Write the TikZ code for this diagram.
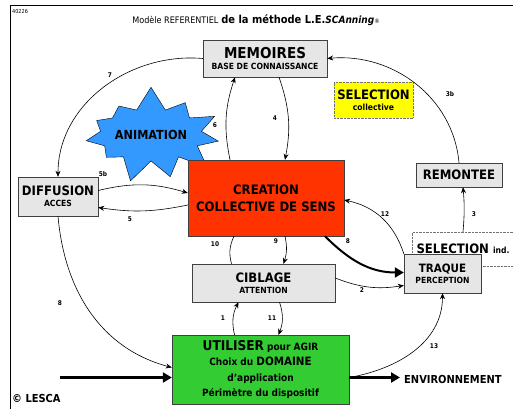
\documentclass[tikz,border=0pt]{standalone}
\usepackage{fontspec}
\setmainfont{DejaVu Sans Condensed}
\usepackage{xcolor}
\usepackage{tikz}
\usetikzlibrary{shapes.symbols,arrows.meta}
\definecolor{boxgray}{HTML}{E6E6E6}
\definecolor{selyellow}{HTML}{FFFF00}
\definecolor{creared}{HTML}{FF3300}
\definecolor{utlgreen}{HTML}{33CC33}
\definecolor{animblue}{HTML}{3399FF}
\newcommand\headtxt{\fontsize{13}{14}\selectfont}
\newcommand\subtxt{\fontsize{8.5}{10}\selectfont}

\begin{document}
\begin{tikzpicture}[
  x=1pt, y=1pt,
  box/.style={rectangle, draw=black!75, fill=boxgray, inner sep=0pt,
    align=center, font=\bfseries},
  dotbox/.style={box, draw=black!55, densely dotted},
  num/.style={font=\bfseries\fontsize{6.5}{7}\selectfont, inner sep=1pt},
  arr/.style={-{Stealth[length=6pt,width=5pt]}, semithick},
  fat/.style={-{Triangle[length=9pt,width=10pt]}, line width=2.6pt}
]
\useasboundingbox (0,0) rectangle (513,409);
\draw[line width=1pt] (10,0) -- (10,403) -- (513,403);
\node[anchor=west, font=\fontsize{5.5}{6}\selectfont, inner sep=0pt] (ref) at (12,397) {40226};
\node[inner sep=0pt] (title) at (256,389) {{\fontsize{9}{11}\selectfont Modèle REFERENTIEL}
  {\bfseries\fontsize{11}{12}\selectfont de la méthode L.E.\itshape\fontsize{10}{12}\selectfont SCAnning}{\fontsize{6}{7}\selectfont ®}};

% boxes
\node[box, minimum width=124pt, minimum height=37pt] (mem) at (265,350.5)
  {\fontsize{15}{16}\selectfont MEMOIRES\\[-1pt]\subtxt BASE DE CONNAISSANCE};
\node[dotbox, fill=selyellow, minimum width=79pt, minimum height=36pt] (selcol) at (373.5,309)
  {\headtxt SELECTION\\[-1pt]\subtxt collective};
\node[starburst, starburst points=11, starburst point height=24pt, random starburst=7,
  fill=animblue, draw=black, minimum width=118pt, minimum height=100pt, inner sep=0pt,
  font=\bfseries\fontsize{12.5}{13}\selectfont] (anim) at (151,274) {ANIMATION};
\node[box, fill=creared, minimum width=156pt, minimum height=76pt,
  font=\bfseries\fontsize{13}{17}\selectfont] (crea) at (266,211)
  {CREATION\\ COLLECTIVE DE SENS};
\node[box, minimum width=80pt, minimum height=39pt] (diff) at (58,212.5)
  {\headtxt DIFFUSION\\[-1pt]\subtxt ACCES};
\node[box, minimum width=86pt, minimum height=24pt] (rem) at (459,234) {\headtxt REMONTEE};
\node[dotbox, fill=white, minimum width=101pt, minimum height=34pt] (selind) at (463,160)
  {\headtxt SELECTION {\subtxt ind.}};
\node[box, minimum width=143pt, minimum height=38pt] (cib) at (263.5,126)
  {\headtxt CIBLAGE\\[-1pt]\subtxt ATTENTION};
\node[box, minimum width=77pt, minimum height=39pt] (traq) at (442.5,135.5)
  {\fontsize{11.5}{13}\selectfont TRAQUE\\[-1pt]\subtxt PERCEPTION};
\node[box, fill=utlgreen, minimum width=177pt, minimum height=69pt,
  font=\bfseries\fontsize{10}{15.5}\selectfont] (utl) at (260.5,39.5)
  {{\fontsize{13.5}{15.5}\selectfont UTILISER} pour AGIR\\
   Choix du {\fontsize{11.5}{15.5}\selectfont DOMAINE}\\ d'application\\ Périmètre du dispositif};
\node[anchor=west, font=\bfseries\fontsize{11}{12}\selectfont, inner sep=0pt] (env) at (404,30) {ENVIRONNEMENT};
\node[anchor=west, font=\bfseries\fontsize{11}{12}\selectfont, inner sep=0pt] (lesca) at (12,11) {© LESCA};
\coordinate (inlet) at (60,31.5);
\coordinate (outlet) at (400,31.5);

% numbers
\node[num] (n7) at (110,334) {7};
\node[num] (n3b) at (450,315) {3b};
\node[num] (n6) at (215,284) {6};
\node[num] (n4) at (275,291) {4};
\node[num] (n5b) at (103,235) {5b};
\node[num] (n5) at (130,190) {5};
\node[num] (n3) at (474,195) {3};
\node[num] (n12) at (385,195) {12};
\node[num] (n8) at (348,168) {8};
\node[num] (n10) at (215,165) {10};
\node[num] (n9) at (276,168) {9};
\node[num] (n2) at (362,119) {2};
\node[num] (n8b) at (60,106) {8};
\node[num] (n1) at (223,91) {1};
\node[num] (n11) at (272,91) {11};
\node[num] (n13) at (434,63) {13};

% links
\draw[arr] (mem.west) to[out=175, in=90] (diff.north);
\draw[arr] (rem.north) to[out=95, in=5] (mem.east);
\draw[arr] ([xshift=-36pt]crea.north) to[bend left=15] ([xshift=-30pt]mem.south);
\draw[arr] ([xshift=14pt]mem.south) to[bend left=15] ([xshift=19pt]crea.north);
\draw[arr] ([yshift=6pt]diff.east) to[bend left=15] ([yshift=5pt]crea.west);
\draw[arr] ([yshift=-7pt]crea.west) to[bend left=10] ([yshift=-11pt]diff.east);
\draw[arr] (traq.north west) to[bend right=30] ([yshift=-2pt]crea.east);
\draw[fat, line width=2pt] ([xshift=59pt]crea.south) to[out=-45, in=180] ([yshift=1pt]traq.west);
\draw[arr] (selind.north) to[bend right=5] ([xshift=4pt]rem.south);
\draw[semithick] ([xshift=-32pt]cib.north) to[bend left=20] ([xshift=-32pt]crea.south);
\draw[arr] ([xshift=19pt]crea.south) to[bend left=15] ([xshift=20pt]cib.north);
\draw[arr] ([yshift=5pt]cib.east) to[bend right=15] ([yshift=-12pt]traq.west);
\draw[arr] (diff.south) to[out=-85, in=165] ([yshift=2pt]utl.west);
\draw[arr] ([xshift=-26pt]utl.north) to[bend left=20] ([xshift=-25pt]cib.south);
\draw[arr] ([xshift=16pt]cib.south) to[bend left=20] ([xshift=18pt]utl.north);
\draw[arr] ([yshift=-8pt]utl.east) to[out=10, in=-90] (traq.south);
\draw[fat] (inlet) -- (inlet -| utl.west);
\draw[fat] (utl.east |- outlet) -- (outlet);
\end{tikzpicture}
\end{document}
